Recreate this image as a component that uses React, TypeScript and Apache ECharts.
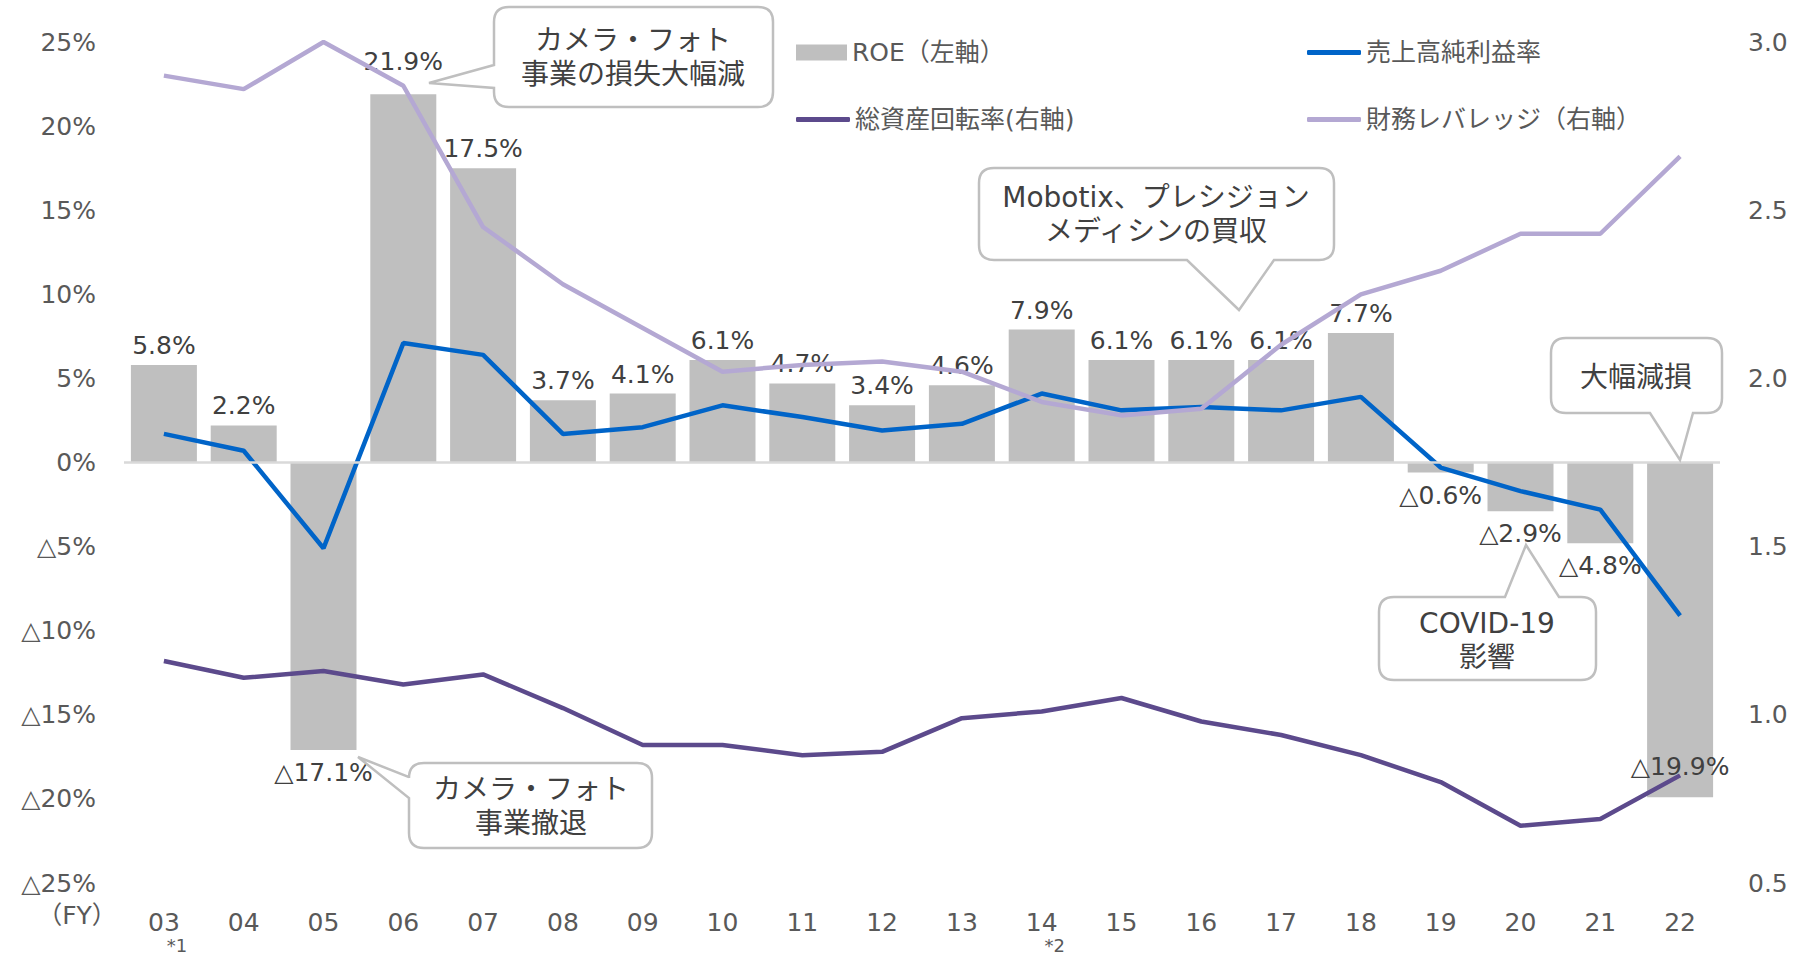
import React, { useEffect, useRef } from "react";
import * as echarts from "echarts";

const years = ["03","04","05","06","07","08","09","10","11","12","13","14","15","16","17","18","19","20","21","22"];
const yearNotes: Record<string, string> = { "03": "*1", "14": "*2" };
const roe = [5.8, 2.2, -17.1, 21.9, 17.5, 3.7, 4.1, 6.1, 4.7, 3.4, 4.6, 7.9, 6.1, 6.1, 6.1, 7.7, -0.6, -2.9, -4.8, -19.9];
const netMargin = [1.7, 0.7, -5.1, 7.1, 6.4, 1.7, 2.1, 3.4, 2.7, 1.9, 2.3, 4.1, 3.1, 3.3, 3.1, 3.9, -0.3, -1.7, -2.8, -9.1];
const assetTurnover = [1.16, 1.11, 1.13, 1.09, 1.12, 1.02, 0.91, 0.91, 0.88, 0.89, 0.99, 1.01, 1.05, 0.98, 0.94, 0.88, 0.80, 0.67, 0.69, 0.82];
const leverage = [2.90, 2.86, 3.00, 2.87, 2.45, 2.28, 2.15, 2.02, 2.04, 2.05, 2.02, 1.93, 1.89, 1.91, 2.10, 2.25, 2.32, 2.43, 2.43, 2.66];
const insideLabelYears = ["22"];
const raisedLabelYears = ["06"];

const leftTicks = { min: -25, max: 25, interval: 5 };
const rightTicks = { min: 0.5, max: 3.0, interval: 0.5 };

const names = {
  roe: "ROE（左軸）",
  margin: "売上高純利益率",
  turnover: "総資産回転率(右軸)",
  leverage: "財務レバレッジ（右軸）",
};

const FONT = "'DejaVu Sans', 'Noto Sans CJK JP', sans-serif";

type Callout = {
  id: string;
  x: number; y: number; w: number; h: number; r: number;
  side: "top" | "bottom" | "left";
  b1: number; b2: number; tx: number; ty: number;
  text: string; cx: number; cy: number;
};

const callouts: Callout[] = [
  { id: "co1", x: 494, y: 7, w: 279, h: 100, r: 15, side: "left", b1: 65, b2: 88, tx: 429, ty: 83,
    text: "カメラ・フォト\n事業の損失大幅減", cx: 633, cy: 57 },
  { id: "co2", x: 979, y: 168, w: 355, h: 92, r: 15, side: "bottom", b1: 1187, b2: 1274, tx: 1239, ty: 310,
    text: "Mobotix、プレシジョン\nメディシンの買収", cx: 1156, cy: 214 },
  { id: "co3", x: 1551, y: 338, w: 171, h: 75, r: 15, side: "bottom", b1: 1650, b2: 1693, tx: 1680, ty: 460,
    text: "大幅減損", cx: 1636, cy: 377 },
  { id: "co4", x: 1379, y: 597, w: 217, h: 83, r: 15, side: "top", b1: 1505, b2: 1559, tx: 1526, ty: 545,
    text: "COVID-19\n影響", cx: 1487, cy: 640 },
  { id: "co5", x: 409, y: 763, w: 243, h: 85, r: 15, side: "left", b1: 777, b2: 798, tx: 358, ty: 757,
    text: "カメラ・フォト\n事業撤退", cx: 531, cy: 806 },
];

function calloutPath(c: Callout): string {
  const { x, y, w, h, r, side, b1, b2, tx, ty } = c;
  const p: string[] = [];
  p.push(`M${x + r} ${y}`);
  if (side === "top") p.push(`L${b1} ${y}`, `L${tx} ${ty}`, `L${b2} ${y}`);
  p.push(`L${x + w - r} ${y}`, `Q${x + w} ${y} ${x + w} ${y + r}`);
  p.push(`L${x + w} ${y + h - r}`, `Q${x + w} ${y + h} ${x + w - r} ${y + h}`);
  if (side === "bottom") p.push(`L${b2} ${y + h}`, `L${tx} ${ty}`, `L${b1} ${y + h}`);
  p.push(`L${x + r} ${y + h}`, `Q${x} ${y + h} ${x} ${y + h - r}`);
  if (side === "left") p.push(`L${x} ${b2}`, `L${tx} ${ty}`, `L${x} ${b1}`);
  p.push(`L${x} ${y + r}`, `Q${x} ${y} ${x + r} ${y}`, "Z");
  return p.join(" ");
}

let registered = false;
function registerCallouts() {
  if (registered) return;
  callouts.forEach((c) => {
    echarts.graphic.registerShape(c.id, echarts.graphic.extendPath(calloutPath(c), {}) as any);
  });
  registered = true;
}

const fmtPct = (v: number) => (v < 0 ? "△" + Math.abs(v).toFixed(1) + "%" : v.toFixed(1) + "%");

export default function App() {
  const ref = useRef<HTMLDivElement>(null);
  useEffect(() => {
    if (!ref.current) return;
    registerCallouts();
    const chart = echarts.init(ref.current, undefined, { renderer: "svg" });

    const barData = roe.map((v, i) => {
      const inside = insideLabelYears.includes(years[i]);
      const raised = raisedLabelYears.includes(years[i]);
      return {
        value: v,
        label: {
          position: inside ? "insideBottom" : v < 0 ? "bottom" : "top",
          distance: inside ? 18 : v < 0 ? 10 : raised ? 20 : 7,
        },
      };
    });

    const legendBase = {
      textStyle: { fontSize: 25, color: "#595959", fontFamily: FONT },
      padding: 0,
      itemGap: 0,
      selectedMode: false as const,
    };

    const graphics: any[] = [];
    callouts.forEach((c) => {
      graphics.push({
        type: c.id,
        x: 0,
        y: 0,
        z: 100,
        style: { fill: "#ffffff", stroke: "#BFBFBF", lineWidth: 2.5 },
      });
      graphics.push({
        type: "text",
        x: c.cx,
        y: c.cy,
        z: 101,
        style: {
          text: c.text,
          fill: "#404040",
          font: `28px ${FONT}`,
          align: "center",
          verticalAlign: "middle",
          lineHeight: 34,
        },
      });
    });
    graphics.push({
      type: "text",
      x: 77,
      y: 915,
      style: {
        text: "（FY）",
        fill: "#595959",
        font: `25px ${FONT}`,
        align: "center",
        verticalAlign: "middle",
      },
    });

    chart.setOption({
      animation: false,
      backgroundColor: "#ffffff",
      grid: { left: 124, right: 89, top: 42, bottom: 76, containLabel: false },
      legend: [
        { ...legendBase, data: [{ name: names.roe, icon: "rect" }], left: 796, top: 40, itemWidth: 51, itemHeight: 16 },
        { ...legendBase, data: [{ name: names.margin, icon: "roundRect" }], left: 1307, top: 40, itemWidth: 54, itemHeight: 5 },
        { ...legendBase, data: [{ name: names.turnover, icon: "roundRect" }], left: 796, top: 107, itemWidth: 54, itemHeight: 5 },
        { ...legendBase, data: [{ name: names.leverage, icon: "roundRect" }], left: 1307, top: 107, itemWidth: 54, itemHeight: 5 },
      ],
      xAxis: {
        type: "category",
        data: years,
        axisLine: { show: false, onZero: false },
        axisTick: { show: false },
        axisLabel: {
          margin: 25,
          color: "#595959",
          fontFamily: FONT,
          formatter: (v: string) => (yearNotes[v] ? `{a|${v}}\n{s|${yearNotes[v]}}` : `{a|${v}}`),
          rich: {
            a: { fontSize: 25, lineHeight: 28, color: "#595959", fontFamily: FONT },
            s: { fontSize: 18, lineHeight: 18, color: "#595959", fontFamily: FONT, padding: [0, 0, 0, 26] },
          },
        },
      },
      yAxis: [
        {
          type: "value",
          ...leftTicks,
          axisLine: { show: false },
          axisTick: { show: false },
          splitLine: { show: false },
          axisLabel: {
            margin: 28,
            fontSize: 25,
            color: "#595959",
            fontFamily: FONT,
            formatter: (v: number) => (v < 0 ? "△" + Math.abs(v) + "%" : v + "%"),
          },
        },
        {
          type: "value",
          ...rightTicks,
          axisLine: { show: false },
          axisTick: { show: false },
          splitLine: { show: false },
          axisLabel: {
            margin: 28,
            fontSize: 25,
            color: "#595959",
            fontFamily: FONT,
            formatter: (v: number) => v.toFixed(1),
          },
        },
      ],
      series: [
        {
          name: names.roe,
          type: "bar",
          yAxisIndex: 0,
          data: barData,
          barWidth: 66,
          itemStyle: { color: "#BFBFBF" },
          label: {
            show: true,
            fontSize: 25,
            color: "#404040",
            fontFamily: FONT,
            formatter: (p: any) => fmtPct(p.value),
          },
          markLine: {
            silent: true,
            symbol: "none",
            label: { show: false },
            lineStyle: { color: "#D9D9D9", width: 2.5, type: "solid" },
            data: [{ yAxis: 0 }],
          },
        },
        {
          name: names.margin,
          type: "line",
          yAxisIndex: 0,
          data: netMargin,
          symbol: "none",
          lineStyle: { color: "#0064C8", width: 4.5 },
          itemStyle: { color: "#0064C8" },
        },
        {
          name: names.turnover,
          type: "line",
          yAxisIndex: 1,
          data: assetTurnover,
          symbol: "none",
          lineStyle: { color: "#5C4A8C", width: 4.5 },
          itemStyle: { color: "#5C4A8C" },
        },
        {
          name: names.leverage,
          type: "line",
          yAxisIndex: 1,
          data: leverage,
          symbol: "none",
          lineStyle: { color: "#B4A8D3", width: 4.5 },
          itemStyle: { color: "#B4A8D3" },
        },
      ],
      graphic: graphics,
    });

    return () => chart.dispose();
  }, []);

  return (
    <div
      ref={ref}
      style={{ position: "fixed", left: 0, top: 0, width: 1809, height: 959, background: "#fff" }}
    />
  );
}
